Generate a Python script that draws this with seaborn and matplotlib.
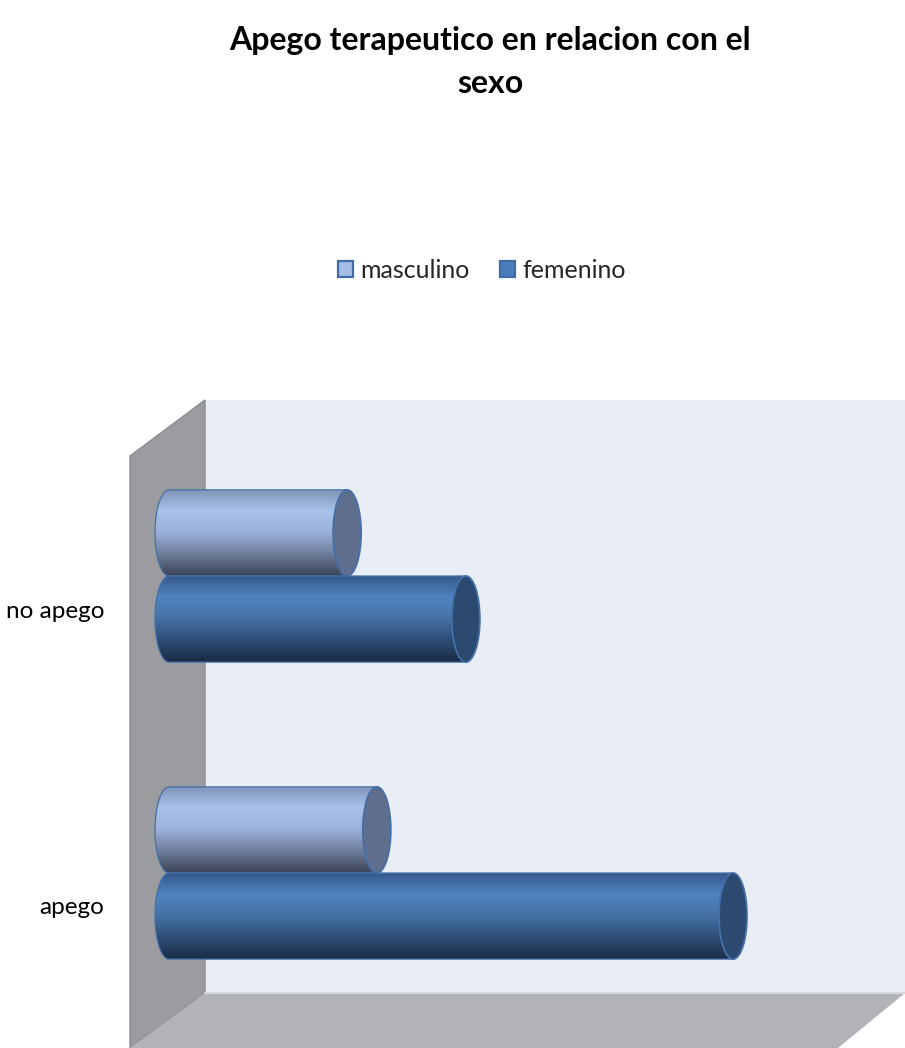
import numpy as np
import pandas as pd
import matplotlib
matplotlib.use("Agg")
import matplotlib.pyplot as plt
import seaborn as sns
from matplotlib.patches import Polygon, PathPatch, Ellipse
from matplotlib.path import Path
from matplotlib.colors import LinearSegmentedColormap
from matplotlib.transforms import Affine2D, ScaledTranslation

# ---------------- data ----------------
categories = ["no apego", "apego"]
sexes = ["masculino", "femenino"]
masculino = [6, 7]
femenino = [10, 19]
title = "Apego terapeutico en relacion con el\nsexo"

df = pd.DataFrame({
    "categoria": categories * 2,
    "sexo": [sexes[0]] * len(categories) + [sexes[1]] * len(categories),
    "valor": masculino + femenino,
})

# ---------------- style ----------------
sns.set_style("white")
plt.rcParams["font.family"] = ["Lato", "DejaVu Sans"]

W, H = 905, 1048
fig = plt.figure(figsize=(W / 100, H / 100), dpi=100)
fig.patch.set_facecolor("white")
pix = Affine2D().scale(1 / W, -1 / H).translate(0, 1) + fig.transFigure

ax_left = 128
ax = fig.add_axes([ax_left / W, 0, 1 - ax_left / W, 1])
ax.patch.set_alpha(0)

palette = {"masculino": "#A5BDE5", "femenino": "#4A7EBB"}
sns.barplot(data=df, y="categoria", x="valor", hue="sexo", order=categories,
            hue_order=sexes, palette=palette, orient="h", width=0.58, ax=ax,
            saturation=1)

# scales (pixel layout of the reference)
u = 564 / 19.0       # pixels per value unit
x0_pix = 169
ax.set_xlim(-(x0_pix - ax_left) / u, (W - x0_pix) / u)
cat_pix = 297.0
c0 = 576
ax.set_ylim((H - c0) / cat_pix, -c0 / cat_pix)
ax.set_xlabel("")
ax.set_ylabel("")
ax.set_xticks([])
for s in ax.spines.values():
    s.set_visible(False)
ax.tick_params(axis="y", length=0, pad=17, labelsize=17.5, labelcolor="#000000")

# legend
sns.move_legend(ax, "center", bbox_to_anchor=(482 / W, 1 - 270 / H),
                bbox_transform=fig.transFigure, ncol=2, frameon=False,
                title=None, fontsize=18, handlelength=0.6, handleheight=0.6,
                columnspacing=1.2, handletextpad=0.3)
leg = ax.get_legend()
for h_ in leg.legend_handles:
    h_.set_edgecolor("#3F6CA6")
    h_.set_linewidth(1.6)

# ---------------- 3D walls (decoration) ----------------
back = Polygon([(205, 400), (905, 400), (905, 993), (205, 993)], closed=True,
               transform=pix, facecolor="#E9EDF6", edgecolor="none", zorder=0)
side = Polygon([(130, 456), (205, 400), (205, 993), (130, 1048)], closed=True,
               transform=pix, facecolor="#9A9C9F", edgecolor="#8A8C8F", lw=1, zorder=0)
floor = Polygon([(205, 993), (905, 993), (838, 1048), (130, 1048)], closed=True,
                transform=pix, facecolor="#B1B3B7", edgecolor="none", zorder=0)
for p in (back, side, floor):
    fig.add_artist(p)
fig.add_artist(plt.Line2D([205, 905], [993, 993], transform=pix, color="#D5D9E0", lw=1.5, zorder=0))

# ---------------- cylinders ----------------
grad_stops = {
    "masculino": ["#7F92B7", "#A9C2EA", "#9AB0D8", "#6E7D9A", "#3B4356"],
    "femenino": ["#34588A", "#5084C0", "#4572A5", "#2E4E76", "#1B2C45"],
}
cap_col = {"masculino": "#5F6E8C", "femenino": "#2C4A70"}
edge_col = "#4470A8"
rx = 14 / u
grad = np.linspace(0, 1, 200).reshape(-1, 1)

for lvl, cont in zip(sexes, ax.containers):
    cmap = LinearSegmentedColormap.from_list(lvl, grad_stops[lvl])
    z = 2 if lvl == "masculino" else 4
    for bar in cont:
        x0 = bar.get_x()
        x1 = x0 + bar.get_width()
        y0 = bar.get_y()
        h = bar.get_height()
        yc = y0 + h / 2
        t = np.linspace(0, np.pi, 60)
        ex = x0 - rx * np.sin(t)
        ey = yc - (h / 2) * np.cos(t)
        verts = [(x1, y0)] + list(zip(ex, ey)) + [(x1, y0 + h), (x1, y0)]
        codes = [Path.MOVETO] + [Path.LINETO] * (len(verts) - 2) + [Path.CLOSEPOLY]
        body = PathPatch(Path(verts, codes), transform=ax.transData,
                         facecolor="none", edgecolor=edge_col, lw=0.9, zorder=z + 0.5)
        ax.add_patch(body)
        im = ax.imshow(grad, cmap=cmap, extent=[x0 - rx, x1, y0 + h, y0],
                       aspect="auto", origin="upper", zorder=z, interpolation="bilinear")
        im.set_clip_path(body)
        cap = Ellipse((x1, yc), 2 * rx, h, transform=ax.transData,
                      facecolor=cap_col[lvl], edgecolor=edge_col, lw=1.3, zorder=z + 1)
        ax.add_patch(cap)
        bar.set_facecolor("none")
        bar.set_edgecolor("none")

ax.set_xlim(-(x0_pix - ax_left) / u, (W - x0_pix) / u)
ax.set_ylim((H - c0) / cat_pix, -c0 / cat_pix)

# title
fig.text(490 / W, 1 - 62 / H, title, ha="center", va="center", fontsize=23,
         fontweight="bold", linespacing=1.62, color="#000000")

# shift category labels slightly downward like the reference
fig.canvas.draw()
for lab in ax.get_yticklabels():
    lab.set_transform(lab.get_transform() + ScaledTranslation(0, -33 / 100, fig.dpi_scale_trans))

fig.savefig("out.png", dpi=100)
